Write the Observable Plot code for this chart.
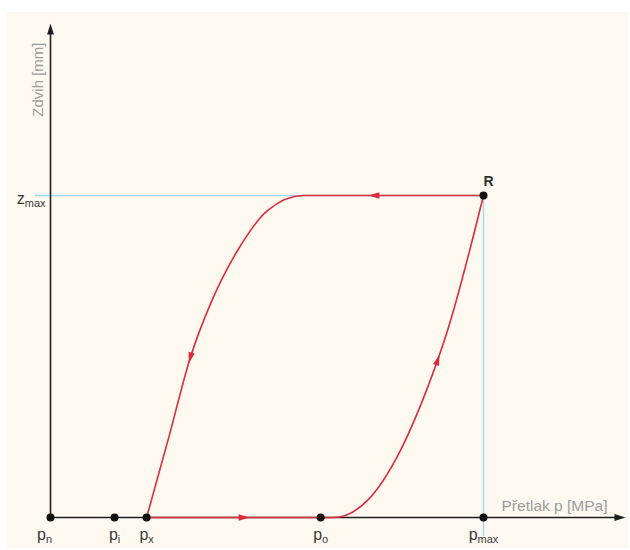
<!DOCTYPE html>
<html>
<head>
<meta charset="utf-8">
<script src="https://cdn.jsdelivr.net/npm/d3@7"></script>
<script src="https://cdn.jsdelivr.net/npm/@observablehq/plot@0.6"></script>
<style>
  html, body { margin: 0; padding: 0; background: #ffffff; }
  #wrap { position: relative; width: 630px; height: 550px; overflow: hidden; }
  #paper { position: absolute; left: 7px; top: 12px; width: 621px; height: 536px; background: #fdf9f0; }
  #chart { position: absolute; left: 0; top: 0; }
</style>
</head>
<body>
<div id="wrap"><div id="paper"></div><div id="chart"></div></div>
<script>
// Characteristic points on the pressure axis (label "_" marks a subscript)
const pointLabels = ["p_n", "p_i", "p_x", "p_o", "p_max"];
const pointPressures = [0, 1.48, 2.22, 6.24, 10];

// Maximum stroke and the pressure at which it is reached (point R)
const pMax = 10;
const zMax = 10;

// Extent of the drawn axes
const pAxisEnd = 13.28;
const zAxisEnd = 15.34;

// Closing branch: from R back along z_max, then down to p_x
const closingP = [10, 7.48, 6.47, 5.84, 5.01, 4.32, 3.70, 3.23, 2.73, 2.22];
const closingZ = [10, 10, 10, 10, 9.53, 8.29, 6.65, 4.97, 2.48, 0];

// Valve at rest between p_x and p_o
const restP = [2.22, 4.46, 6.24];
const restZ = [0, 0, 0];

// Opening branch: from p_o up to R
const openingP = [6.24, 6.54, 7.32, 8.08, 8.71, 8.94, 9.17, 10];
const openingZ = [0, 0, 0.53, 2.08, 4.04, 4.88, 5.81, 10];

// Vertices carrying a direction arrow
const closingArrows = [1, 7];
const restArrows = [1];
const openingArrows = [5];

// Layout
const W = 630, H = 550;
const mL = 50, mR = 5, mT = 23, mB = 33;
const kx = (W - mL - mR) / pAxisEnd;
const ky = (H - mT - mB) / zAxisEnd;

const toRows = (P, Z) => P.map((p, i) => ({p, z: Z[i]}));
// arrow heading (clockwise degrees from "up") toward the next vertex, in screen space
const arrowsOn = (P, Z, idx) => idx.map(i => ({
  p: P[i], z: Z[i],
  angle: Math.atan2((P[i + 1] - P[i]) * kx, (Z[i + 1] - Z[i]) * ky) * 180 / Math.PI
}));

// both branches are drawn as z(p), ordered by increasing pressure
const closing = toRows(closingP, closingZ).reverse();
const rest = toRows(restP, restZ);
const opening = toRows(openingP, openingZ);
const flowArrows = [
  ...arrowsOn(closingP, closingZ, closingArrows),
  ...arrowsOn(restP, restZ, restArrows),
  ...arrowsOn(openingP, openingZ, openingArrows)
];
const points = pointLabels.map((label, i) => ({label, p: pointPressures[i]}));

// Arrowhead shapes
const flowHead = {draw(c) { c.moveTo(0, -6); c.lineTo(3.2, 5); c.lineTo(-3.2, 5); c.closePath(); }};
const axisHead = {draw(c) { c.moveTo(0, 0); c.lineTo(3.4, 11); c.lineTo(-3.4, 11); c.closePath(); }};

const RED = "#dc2c3c";
const BLUE = "#a8d8ec";
const INK = "#1e1e1e";
const GREY = "#9c9c9c";
const FONT = "Liberation Sans, Arial, sans-serif";

const chart = Plot.plot({
  width: W,
  height: H,
  marginLeft: mL,
  marginRight: mR,
  marginTop: mT,
  marginBottom: mB,
  x: {domain: [0, pAxisEnd], axis: null},
  y: {domain: [0, zAxisEnd], axis: null},
  style: {background: "transparent", fontFamily: FONT, overflow: "visible"},
  marks: [
    // guide lines to R
    Plot.ruleY([zMax], {x1: -0.35, x2: pMax, stroke: BLUE, strokeWidth: 1.5}),
    Plot.ruleX([pMax], {y1: -0.59, y2: zMax, stroke: BLUE, strokeWidth: 1.5}),
    // axes
    Plot.ruleX([0], {y1: 0, y2: zAxisEnd - 0.2, stroke: INK, strokeWidth: 1.6}),
    Plot.ruleY([0], {x1: 0, x2: pAxisEnd - 0.2, stroke: INK, strokeWidth: 1.6}),
    Plot.dot([{p: 0, z: zAxisEnd, angle: 0}, {p: pAxisEnd, z: 0, angle: 90}],
      {x: "p", y: "z", rotate: "angle", symbol: axisHead, fill: INK, stroke: "none"}),
    // hysteresis loop
    Plot.line(rest, {x: "p", y: "z", stroke: RED, strokeWidth: 1.6}),
    Plot.line(closing, {x: "p", y: "z", stroke: RED, strokeWidth: 1.6, curve: "monotone-x"}),
    Plot.line(opening, {x: "p", y: "z", stroke: RED, strokeWidth: 1.6, curve: "monotone-x"}),
    Plot.dot(flowArrows, {x: "p", y: "z", rotate: "angle", symbol: flowHead, fill: RED, stroke: "none"}),
    // characteristic points
    Plot.dot(points, {x: "p", y: 0, r: 4, fill: "#111", stroke: "none"}),
    Plot.dot([{p: pMax, z: zMax}], {x: "p", y: "z", r: 4, fill: "#111", stroke: "none"}),
    // labels
    Plot.text(points, {filter: d => d.p > 0, x: "p", y: 0, text: "label", textAnchor: "middle",
      lineAnchor: "bottom", dy: 22, fontSize: 16, fill: "#3a3a3a"}),
    Plot.text(points, {filter: d => d.p === 0, x: "p", y: 0, text: "label", textAnchor: "middle",
      lineAnchor: "bottom", dx: -6, dy: 22, fontSize: 16, fill: "#3a3a3a"}),
    Plot.text(["z_max"], {x: 0, y: zMax, text: d => d, textAnchor: "end", lineAnchor: "bottom",
      dx: -5, dy: 9, fontSize: 16, fill: "#3a3a3a"}),
    Plot.text(["R"], {x: pMax, y: zMax, text: d => d, textAnchor: "middle", lineAnchor: "bottom",
      dx: 5, dy: -9, fontSize: 14, fontWeight: "bold", fill: "#333"}),
    Plot.text(["Přetlak p [MPa]"], {x: pAxisEnd, y: 0, text: d => d, textAnchor: "end",
      lineAnchor: "bottom", dx: -18, dy: -7, fontSize: 15.5, fill: GREY}),
    Plot.text(["Zdvih [mm]"], {x: 0, y: zAxisEnd, text: d => d, textAnchor: "end", lineAnchor: "bottom",
      rotate: -90, dx: -8, dy: 19, fontSize: 15, fill: GREY})
  ]
});

// render "base_sub" labels with a real subscript
d3.select(chart).selectAll("text").each(function () {
  const t = this.textContent;
  if (!t.includes("_")) return;
  const [base, sub] = t.split("_");
  const el = d3.select(this);
  el.text(null);
  el.append("tspan").text(base);
  el.append("tspan").attr("dy", 3).attr("font-size", 11).text(sub);
});

document.getElementById("chart").appendChild(chart);
</script>
</body>
</html>
